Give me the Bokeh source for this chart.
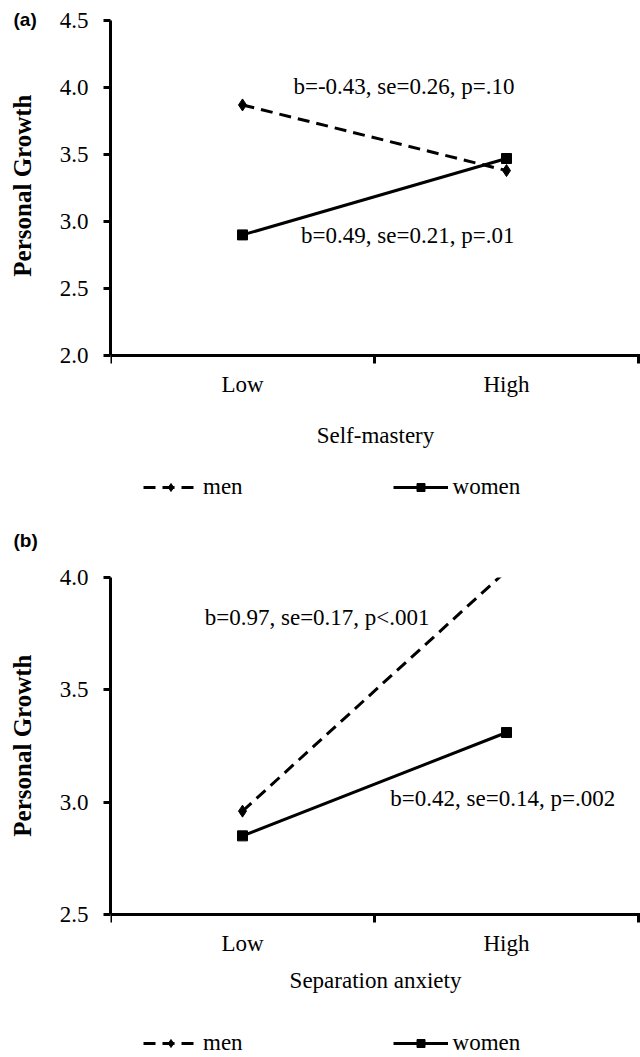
from bokeh.plotting import figure
from bokeh.models import (Range1d, FixedTicker, NumeralTickFormatter, Legend,
                          LegendItem, Label, Title)
from bokeh.layouts import column
from bokeh.embed import file_html
from bokeh.resources import INLINE

# ---------------- data ----------------
levels = ["Low", "High"]
men_a = [3.87, 3.38]
women_a = [2.90, 3.47]
men_b = [2.96, 4.03]
women_b = [2.85, 3.31]
yticks_a = [2.0, 2.5, 3.0, 3.5, 4.0, 4.5]
yticks_b = [2.5, 3.0, 3.5, 4.0]
ann_a = ["b=-0.43, se=0.26, p=.10", "b=0.49, se=0.21, p=.01"]
ann_b = ["b=0.97, se=0.17, p<.001", "b=0.42, se=0.14, p=.002"]
series_names = ["men", "women"]
xtitle_a = "Self-mastery"
xtitle_b = "Separation anxiety"
ytitle = "Personal Growth"

SERIF = "Liberation Serif"
W = 640
LEFT = 110
PX_PER_CAT = 264
FS = "23px"


def make_panel(tag, height, top, axis_h, yticks, xtitle, men, women,
               anns, ann_specs, tag_standoff, lab_standoff, title_standoff,
               legend_y, ytitle_offset):
    xs = [i + 1 for i in range(len(levels))]
    frame_w = W - LEFT
    frame_h = height - top
    y0, y1 = yticks[0], yticks[-1]
    px_per_unit = axis_h / (y1 - y0)
    p = figure(width=W, height=height, output_backend="svg", toolbar_location=None,
               x_range=Range1d(0.5, 0.5 + frame_w / PX_PER_CAT),
               y_range=Range1d(y1 - frame_h / px_per_unit, y1),
               min_border_left=LEFT, min_border_right=0, min_border_top=top,
               min_border_bottom=0)
    p.xgrid.visible = False
    p.ygrid.visible = False
    p.outline_line_color = None
    p.background_fill_color = "white"
    p.border_fill_color = "white"

    # panel tag "(a)" / "(b)"
    p.title.text = tag
    p.title.align = "left"
    p.title.offset = -97
    p.title.text_font = "Liberation Sans"
    p.title.text_font_style = "bold"
    p.title.text_font_size = "19px"
    p.title.text_color = "black"
    p.title.standoff = tag_standoff

    # x axis (drawn at the bottom value of the y scale)
    xa = p.xaxis[0]
    xa.fixed_location = y0
    xa.ticker = FixedTicker(ticks=xs, minor_ticks=[x - 0.5 for x in xs] + [xs[-1] + 0.5])
    xa.major_label_overrides = {x: lab for x, lab in zip(xs, levels)}
    xa.major_tick_out = 0
    xa.major_tick_in = 0
    xa.minor_tick_out = 8
    xa.minor_tick_in = 0
    xa.minor_tick_line_width = 3
    xa.minor_tick_line_color = "black"
    xa.axis_line_width = 3
    xa.axis_line_color = "black"
    xa.major_label_text_font = SERIF
    xa.major_label_text_font_size = FS
    xa.major_label_text_color = "black"
    xa.major_label_standoff = lab_standoff
    xa.axis_label = xtitle
    xa.axis_label_text_font = SERIF
    xa.axis_label_text_font_size = FS
    xa.axis_label_text_font_style = "normal"
    xa.axis_label_text_color = "black"
    xa.axis_label_standoff = title_standoff

    # y axis
    ya = p.yaxis[0]
    ya.bounds = (y0, y1)
    ya.ticker = FixedTicker(ticks=yticks)
    ya.formatter = NumeralTickFormatter(format="0.0")
    ya.major_tick_out = 7
    ya.major_tick_in = 0
    ya.minor_tick_out = 0
    ya.minor_tick_in = 0
    ya.major_tick_line_width = 3
    ya.major_tick_line_color = "black"
    ya.axis_line_width = 3
    ya.axis_line_color = "black"
    ya.major_label_text_font = SERIF
    ya.major_label_text_font_size = FS
    ya.major_label_text_color = "black"
    ya.major_label_standoff = 15
    # invisible spacer label so the real title sits further left
    ya.axis_label = " "
    ya.axis_label_text_font_size = "1px"
    ya.axis_label_standoff = 13

    # y-axis title, centred on the drawn axis (not on the whole frame)
    p.add_layout(Title(text=ytitle, align="right", offset=ytitle_offset,
                       text_font=SERIF, text_font_size="25px", text_font_style="bold",
                       text_color="black", standoff=8), "left")

    ml = p.line(xs, men, line_color="black", line_width=3, line_dash="12 7")
    mm = p.scatter(xs, men, marker="diamond", size=12, color="black")
    wl = p.line(xs, women, line_color="black", line_width=3)
    wm = p.scatter(xs, women, marker="square", size=10, color="black")

    legend = Legend(items=[LegendItem(label=series_names[0], renderers=[ml, mm]),
                           LegendItem(label=series_names[1], renderers=[wl, wm])],
                    orientation="horizontal", location=(33, legend_y),
                    glyph_width=55, glyph_height=20, label_height=20,
                    label_standoff=5, spacing=150, padding=0, margin=0,
                    border_line_color=None, background_fill_alpha=0,
                    label_text_font=SERIF, label_text_font_size=FS,
                    label_text_color="black")
    p.add_layout(legend)

    for txt, (ax, ay, al) in zip(anns, ann_specs):
        p.add_layout(Label(x=ax, y=ay, text=txt, text_align=al, text_baseline="middle",
                           text_font=SERIF, text_font_size=FS, text_color="black"))
    return p


pa = make_panel("(a)", 500, 20, 335, yticks_a, xtitle_a, men_a, women_a,
                ann_a, [(2.03, 4.01, "right"), (2.03, 2.896, "right")],
                -18, 8, 23, 0, 74)
pb = make_panel("(b)", 557, 77, 337, yticks_b, xtitle_b, men_b, women_b,
                ann_b, [(0.857, 3.82, "left"), (1.56, 3.016, "left")],
                54, 8, 9, 1, 77)

layout = column(pa, pb, spacing=0)
open("out.html", "w").write(file_html(layout, INLINE))
